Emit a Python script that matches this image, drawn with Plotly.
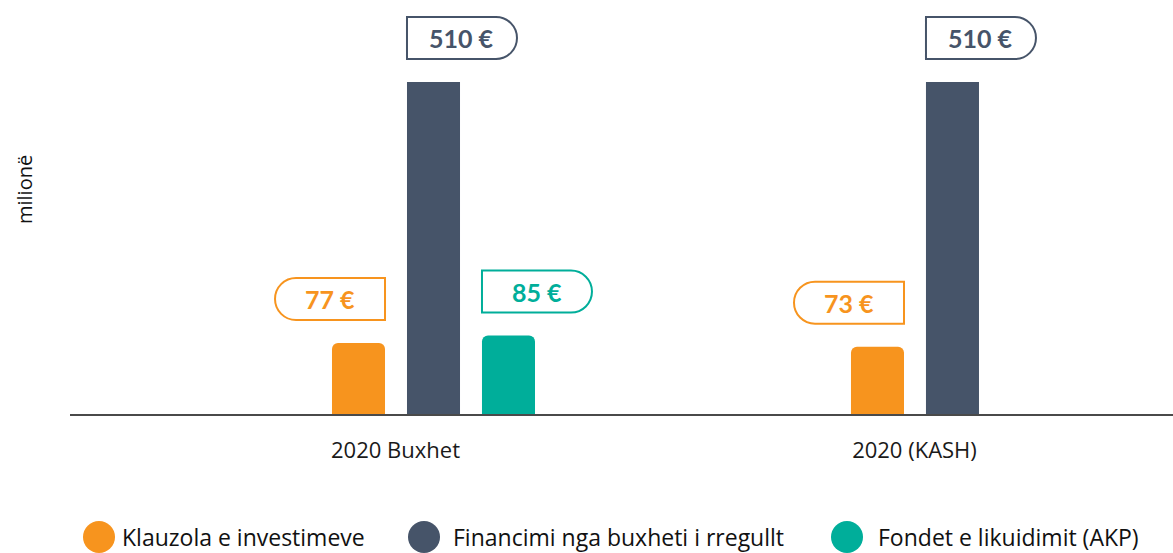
import plotly.graph_objects as go

# Data
categories = ["2020 Buxhet", "2020 (KASH)"]
series_names = ["Klauzola e investimeve", "Financimi nga buxheti i rregullt", "Fondet e likuidimit (AKP)"]
klauzola = [77, 73]
financimi = [510, 510]
fondet = [85, None]
colors = ["#F7941E", "#465469", "#00AE9A"]
y_title = "milionë"

# Layout geometry (pixels)
W, H = 1173, 553
ML, MR, MT, MB = 70, 0, 82, 139
PW, PH = W - ML - MR, H - MT - MB
x_range = [-0.7004, 1.4249]
y_max = 360
bargap, bargroupgap = 0.5665, 0.293

series = [klauzola, financimi, fondet]
n = len(series)
ppu = PW / (x_range[1] - x_range[0])          # pixels per category unit
slot = (1 - bargap) / n
bar_w_px = slot * (1 - bargroupgap) * ppu

fig = go.Figure()
for name, vals, c in zip(series_names, series, colors):
    fig.add_trace(go.Bar(x=categories, y=vals, name=name,
                         marker=dict(color=c, cornerradius=6, line=dict(width=0)),
                         showlegend=False))

K = 0.5523


def box_path(x0, w, yb, h, round_left):
    r = h / 2
    x1 = x0 + w
    yt = yb + h
    if round_left:
        return (f"M {x1},{yb} L {x0 + r},{yb} "
                f"C {x0 + r - K * r},{yb} {x0},{yb + r - K * r} {x0},{yb + r} "
                f"C {x0},{yb + r + K * r} {x0 + r - K * r},{yt} {x0 + r},{yt} "
                f"L {x1},{yt} Z")
    return (f"M {x0},{yb} L {x1 - r},{yb} "
            f"C {x1 - r + K * r},{yb} {x1},{yb + r - K * r} {x1},{yb + r} "
            f"C {x1},{yb + r + K * r} {x1 - r + K * r},{yt} {x1 - r},{yt} "
            f"L {x0},{yt} Z")


shapes = []
annotations = []
box_w, box_h, gap = 110, 42, 23
for i, (vals, c) in enumerate(zip(series, colors)):
    off = (i - (n - 1) / 2) * slot
    for j, v in enumerate(vals):
        if v is None:
            continue
        xp = (j + off - x_range[0]) / (x_range[1] - x_range[0])
        yp = min(v, y_max) / y_max
        half = bar_w_px / 2
        if i == 0:
            bx0 = half - box_w
            path = box_path(bx0, box_w, gap, box_h, True)
        else:
            bx0 = -half
            path = box_path(bx0, box_w, gap, box_h, False)
        shapes.append(dict(type="path", xref="paper", yref="paper",
                           xsizemode="pixel", ysizemode="pixel",
                           xanchor=xp, yanchor=yp, path=path,
                           line=dict(color=c, width=2), fillcolor="white"))
        annotations.append(dict(xref="paper", yref="paper", x=xp, y=yp,
                                xshift=bx0 + box_w / 2, yshift=gap + box_h / 2,
                                text=f"{v} €", showarrow=False,
                                xanchor="center", yanchor="middle",
                                font=dict(family="Lato", size=25, color=c, weight=700)))

# manual legend with large circles
legend_y = (MT + PH - 537) / PH
circle_px = [99, 424, 847]
text_px = [120, 451, 876]
for name, c, cx, tx in zip(series_names, colors, circle_px, text_px):
    shapes.append(dict(type="circle", xref="paper", yref="paper",
                       xsizemode="pixel", ysizemode="pixel",
                       xanchor=(cx - ML) / PW, yanchor=legend_y,
                       x0=-16, x1=16, y0=-16, y1=16,
                       line=dict(width=0), fillcolor=c))
    annotations.append(dict(xref="paper", yref="paper", x=(tx - ML) / PW, y=legend_y,
                            text=name, showarrow=False, xanchor="left", yanchor="middle",
                            font=dict(family="Open Sans", size=23, color="#111111")))

annotations.append(dict(xref="paper", yref="paper", x=(24 - ML) / PW, y=(MT + PH - 190) / PH,
                        text=y_title, showarrow=False, textangle=-90,
                        xanchor="center", yanchor="middle",
                        font=dict(family="Open Sans", size=20, color="#111111")))

fig.update_layout(
    width=W, height=H,
    margin=dict(l=ML, r=MR, t=MT, b=MB),
    barmode="group", bargap=bargap, bargroupgap=bargroupgap,
    plot_bgcolor="white", paper_bgcolor="white",
    showlegend=False,
    shapes=shapes, annotations=annotations,
    font=dict(family="Open Sans", color="#111111"),
)
fig.update_xaxes(range=x_range, showline=True, linecolor="#4a4a4a", linewidth=2,
                 showgrid=False, ticks="", ticklabelshift=-38, ticklabelstandoff=16,
                 tickfont=dict(family="Open Sans", size=22, color="#1a1a1a"))
fig.update_yaxes(range=[0, y_max], showline=False, showgrid=False, zeroline=False,
                 showticklabels=False)

fig.write_html("out.html", config={"displayModeBar": False},
               post_script="document.body.style.margin='0';")
